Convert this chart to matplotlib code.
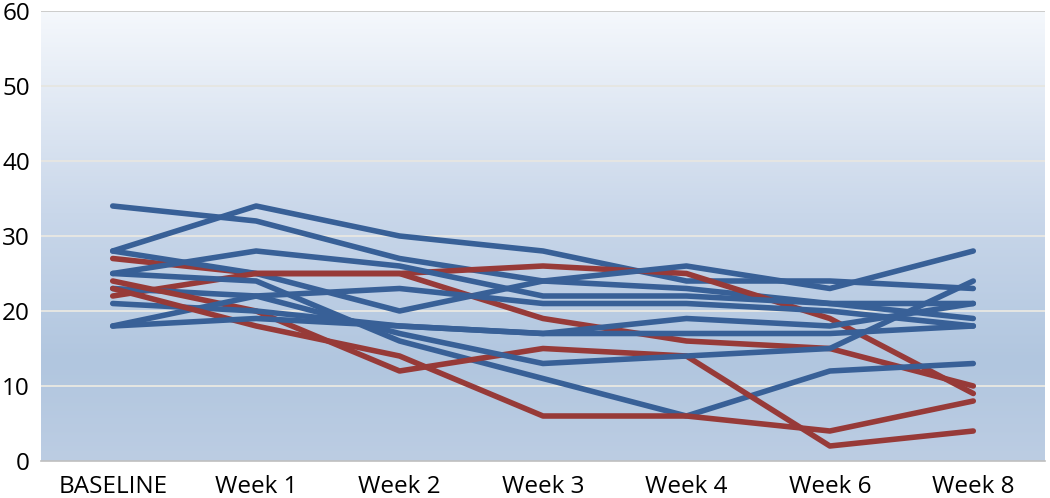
import numpy as np
import matplotlib
matplotlib.use("Agg")
import matplotlib.pyplot as plt
from matplotlib.colors import LinearSegmentedColormap

categories = ["BASELINE", "Week 1", "Week 2", "Week 3", "Week 4", "Week 6", "Week 8"]

# blue series
blue_a = [34, 32, 27, 24, 23, 21, 21]
blue_b = [28, 34, 30, 28, 24, 24, 23]
blue_c = [28, 25, 20, 24, 26, 23, 28]
blue_d = [25, 28, 26, 22, 22, 21, 19]
blue_e = [25, 24, 16, 11, 6, 12, 13]
blue_f = [23, 22, 23, 21, 21, 20, 18]
blue_g = [21, 20, 18, 17, 19, 18, 21]
blue_h = [18, 22, 17, 13, 14, 15, 24]
blue_i = [18, 19, 18, 17, 17, 17, 18]

# red series
red_a = [27, 25, 25, 26, 25, 19, 9]
red_b = [22, 25, 25, 19, 16, 15, 10]
red_c = [24, 20, 12, 15, 14, 2, 4]
red_d = [23, 18, 14, 6, 6, 4, 8]

y_ticks = [0, 10, 20, 30, 40, 50, 60]

BLUE = "#386097"
RED = "#973a38"

plt.rcParams['font.family'] = ['Open Sans', 'DejaVu Sans']

fig = plt.figure(figsize=(10.5, 4.98), dpi=100)
ax = fig.add_axes([41/1050, 37/498, 1004/1050, 450/498])

# gradient background
cmap = LinearSegmentedColormap.from_list(
    "bg", [(0.0, "#bccde3"), (0.22, "#b1c6df"), (0.55, "#c9d7ea"), (1.0, "#f5f8fc")])
grad = np.linspace(0, 1, 256).reshape(-1, 1)
ax.imshow(grad, aspect="auto", cmap=cmap, origin="lower",
          extent=[-0.5, len(categories) - 0.5, 0, 60], zorder=0)

x = np.arange(len(categories))
series = [
    (blue_a, BLUE), (blue_b, BLUE), (red_a, RED), (blue_c, BLUE), (blue_d, BLUE),
    (red_b, RED), (blue_e, BLUE), (blue_f, BLUE), (red_c, RED), (blue_g, BLUE),
    (blue_h, BLUE), (red_d, RED), (blue_i, BLUE),
]
for vals, col in series:
    ax.plot(x, vals, color=col, lw=4.0, solid_capstyle="round",
            solid_joinstyle="round", zorder=3)

ax.set_xlim(-0.5, len(categories) - 0.5)
ax.set_ylim(0, 60)
ax.set_yticks(y_ticks)
ax.set_xticks(x)
ax.set_xticklabels(categories)
for yv in y_ticks[1:]:
    ax.axhline(yv, color="#e6e6e2", lw=1.4, zorder=1)
ax.axhline(60, color="#c8c8c8", lw=1.2, zorder=1)

for s in ["top", "right", "left"]:
    ax.spines[s].set_visible(False)
ax.spines["bottom"].set_color("#bfbfbf")
ax.spines["bottom"].set_linewidth(1.2)
ax.tick_params(axis="both", length=0, labelsize=17.5, colors="#000000")
ax.tick_params(axis="y", pad=8)
ax.tick_params(axis="x", pad=10)

fig.savefig("out.png", dpi=100)
